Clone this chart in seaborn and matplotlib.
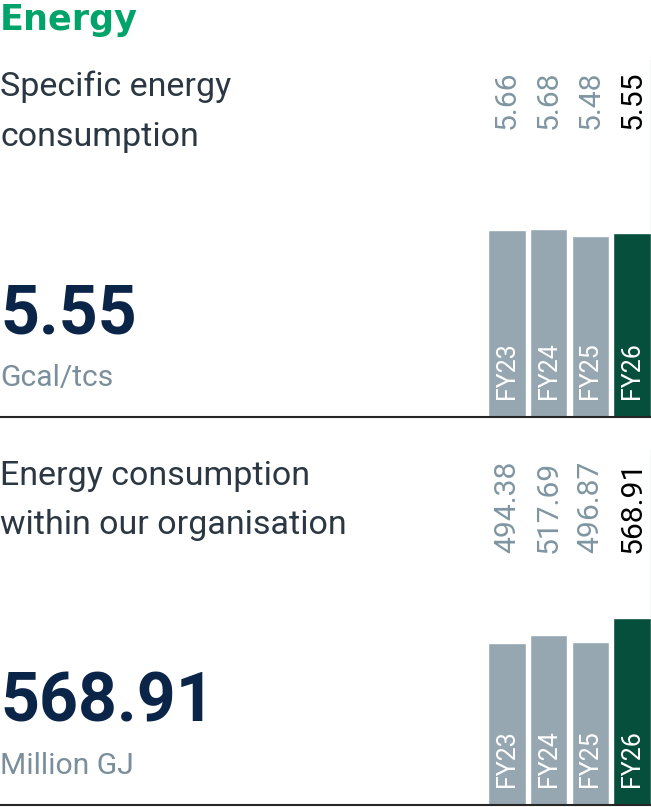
import matplotlib.pyplot as plt
import seaborn as sns
from matplotlib.lines import Line2D
from matplotlib.transforms import blended_transform_factory


FIG_W, FIG_H = 651, 807

YEARS = ["FY23", "FY24", "FY25", "FY26"]
SPECIFIC_ENERGY = [5.66, 5.68, 5.48, 5.55]
ENERGY_CONSUMPTION = [494.38, 517.69, 496.87, 568.91]

SPECIFIC_LABELS = ["5.66", "5.68", "5.48", "5.55"]
CONSUMPTION_LABELS = ["494.38", "517.69", "496.87", "568.91"]

GREEN_TITLE = "#00a36a"
BAR_GREY = "#96a7b2"
BAR_GREEN = "#064f3c"
LABEL_GREY = "#7f95a2"
TEXT_DARK = "#2b3843"
NAVY = "#0b2549"
UNIT_GREY = "#7a8e9b"

sns.set_style("white")
plt.rcParams["font.family"] = ["Roboto", "DejaVu Sans"]


def px(size_px: float) -> float:
    # font size in points for a given pixel size at 100 dpi
    return size_px * 0.72


def fx(x: float) -> float:
    return x / FIG_W


def fy(y: float) -> float:
    return 1 - y / FIG_H


def draw_bars(fig, top, bottom, values, labels):
    ax = fig.add_axes([fx(488), fy(bottom), fx(651) - fx(488), (bottom - top) / FIG_H])
    colors = [BAR_GREY, BAR_GREY, BAR_GREY, BAR_GREEN]
    sns.barplot(
        x=YEARS,
        y=values,
        hue=YEARS,
        palette=colors,
        width=0.9,
        saturation=1,
        legend=False,
        ax=ax,
    )
    ax.set_xlim(-0.45, 3.45)
    ax.set_ylim(0, max(values) * 1.9)
    ax.set_xticks([])
    ax.set_yticks([])
    ax.set_xlabel("")
    ax.set_ylabel("")
    for side in ["top", "left", "bottom"]:
        ax.spines[side].set_visible(False)
    ax.spines["right"].set_color("#c9d4db")
    ax.spines["right"].set_linewidth(1.0)
    ax.spines["right"].set_zorder(0)
    ax.patch.set_alpha(0)

    trans = blended_transform_factory(ax.transData, ax.transAxes)
    for i, (year, label) in enumerate(zip(YEARS, labels)):
        ax.text(
            i, 0.97, label,
            transform=trans, rotation=90, ha="center", va="top",
            fontsize=px(30), color="black" if i == 3 else LABEL_GREY,
        )
        ax.annotate(
            year, xy=(i, 0), xytext=(0, px(18)), textcoords="offset points",
            rotation=90, ha="center", va="bottom",
            fontsize=px(25), color="white",
        )
    return ax


fig = plt.figure(figsize=(FIG_W / 100, FIG_H / 100), dpi=100)

# title
fig.text(fx(0), fy(30), "Energy", fontsize=px(35), fontweight="heavy",
         color=GREEN_TITLE, family=["DejaVu Sans"], va="baseline", ha="left")

# panel 1
fig.text(fx(0), fy(96), "Specific energy", fontsize=px(34), color=TEXT_DARK, va="baseline")
fig.text(fx(0), fy(146), "consumption", fontsize=px(34), color=TEXT_DARK, va="baseline")
fig.text(fx(0), fy(333), "5.55", fontsize=px(68), fontweight="bold", color=NAVY, va="baseline")
fig.text(fx(0), fy(386), "Gcal/tcs", fontsize=px(30), color=UNIT_GREY, va="baseline")
draw_bars(fig, 60, 417, SPECIFIC_ENERGY, SPECIFIC_LABELS)

# panel 2
fig.text(fx(0), fy(485), "Energy consumption", fontsize=px(34), color=TEXT_DARK, va="baseline")
fig.text(fx(0), fy(534), "within our organisation", fontsize=px(34), color=TEXT_DARK, va="baseline")
fig.text(fx(0), fy(722), "568.91", fontsize=px(68), fontweight="bold", color=NAVY, va="baseline")
fig.text(fx(0), fy(774), "Million GJ", fontsize=px(30), color=UNIT_GREY, va="baseline")
draw_bars(fig, 450, 805, ENERGY_CONSUMPTION, CONSUMPTION_LABELS)

# separator lines under each panel
for y in [417, 805]:
    fig.add_artist(Line2D([0, 1], [fy(y), fy(y)], color="#262626", linewidth=1.5, zorder=5))

fig.savefig("out.png", dpi=100)
